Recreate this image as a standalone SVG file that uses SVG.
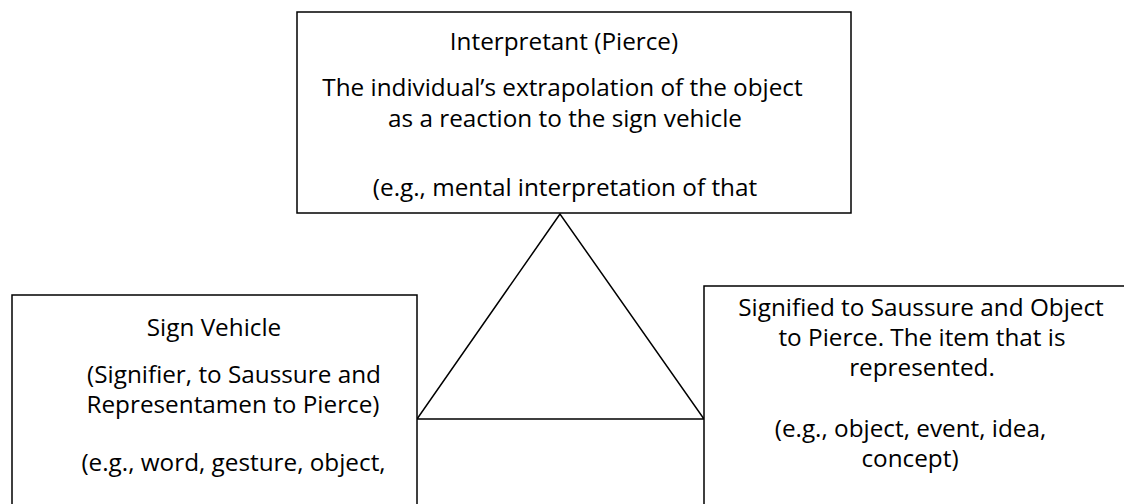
<svg xmlns="http://www.w3.org/2000/svg" width="1124" height="504" viewBox="0 0 1124 504">
<style>
.box{fill:#fff;stroke:#000;stroke-width:1.5}
.t{font-family:"Open Sans","Liberation Sans",sans-serif;font-size:24.3px;fill:#000;text-anchor:middle}
.c{fill:none;stroke:#000;stroke-width:1.5}
</style>
<rect width="1124" height="504" fill="#fff"/>
<g id="connectors">
<polygon class="c" points="560,214 417,419 704,419"/>
</g>
<g id="interpretant">
<rect class="box" x="297" y="12" width="554" height="201"/>
<text class="t" x="564" y="50">Interpretant (Pierce)</text>
<text class="t" x="562.5" y="96">The individual’s extrapolation of the object</text>
<text class="t" x="565" y="126.5">as a reaction to the sign vehicle</text>
<text class="t" x="565" y="196">(e.g., mental interpretation of that</text>
</g>
<g id="sign-vehicle">
<rect class="box" x="12" y="295" width="405" height="230"/>
<text class="t" x="214" y="336">Sign Vehicle</text>
<text class="t" x="234" y="383">(Signifier, to Saussure and</text>
<text class="t" x="233" y="413">Representamen to Pierce)</text>
<text class="t" x="233.5" y="471">(e.g., word, gesture, object,</text>
</g>
<g id="object">
<rect class="box" x="704" y="286" width="440" height="240"/>
<text class="t" x="921" y="315.5">Signified to Saussure and Object</text>
<text class="t" x="922" y="345.5">to Pierce. The item that is</text>
<text class="t" x="922" y="376">represented.</text>
<text class="t" x="910.5" y="437">(e.g., object, event, idea,</text>
<text class="t" x="910" y="467">concept)</text>
</g>
</svg>
